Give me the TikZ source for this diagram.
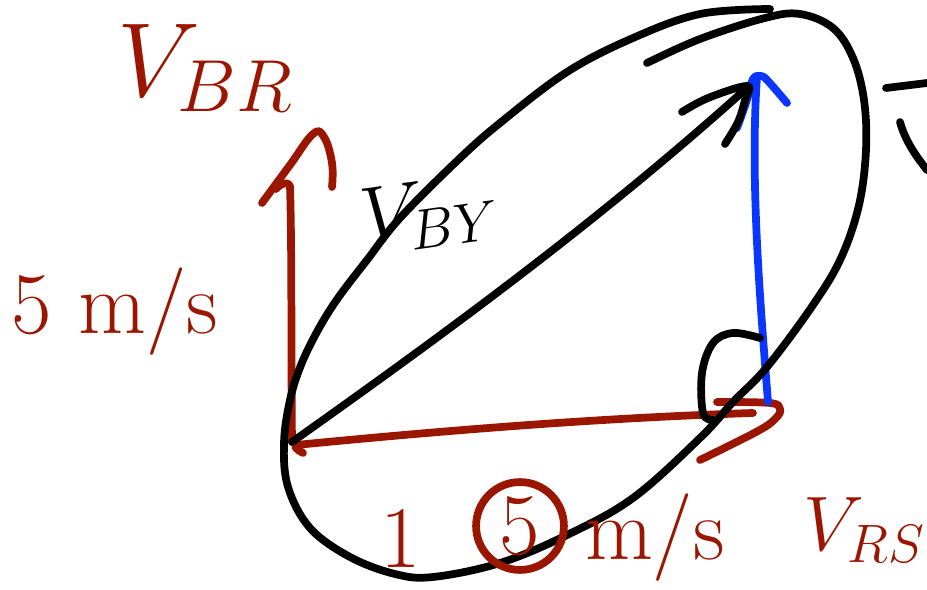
\RequirePackage{fix-cm}
\documentclass[tikz,border=0pt]{standalone}
\usetikzlibrary{positioning}

\definecolor{vred}{RGB}{155,22,0}
\definecolor{vblue}{RGB}{10,54,255}

\begin{document}
\begin{tikzpicture}[
    x=0.02cm, y=-0.02cm,
    every node/.style = {inner sep=0pt, outer sep=0pt},
    pen/.style        = {line width=4.4pt, line cap=round, line join=round},
    redpen/.style     = {pen, draw=vred},
    bluepen/.style    = {pen, draw=vblue},
    blackpen/.style   = {pen, draw=black},
    bigtxt/.style     = {text=vred, font=\fontsize{60}{66}\selectfont},
    midtxt/.style     = {text=vred, font=\fontsize{50}{56}\selectfont}
    ]
      \useasboundingbox (0,0) rectangle (927,590);

      % points ---------------------------------------------------
      \coordinate (O)  at (292,442);
      \coordinate (Rt) at (290,186);
      \coordinate (St) at (753,413);
      \coordinate (Yt) at (748,87);
      \coordinate (Bs) at (768,402);
      \coordinate (Bt) at (757,77);

      % red vectors ----------------------------------------------
      \draw[redpen] (O) .. controls (291,350) and (292,250) .. (Rt)
            .. controls (288,181) and (281,183) .. (276,189);
      \draw[redpen] plot[smooth, tension=0.7] coordinates
            {(262,203) (290,165) (313,134) (324,137) (332,163) (332,187)};
      \draw[redpen] (303,453) .. controls (296,449) and (294,447) .. (296,445)
            .. controls (450,430) and (600,418) .. (St);
      \draw[redpen] plot[smooth, tension=0.6] coordinates
            {(717,402) (770,403) (780,409) (776,418) (758,431) (700,460)};

      % blue vector ----------------------------------------------
      \draw[bluepen] (Bs) .. controls (760,300) and (750,180) .. (Bt);
      \draw[bluepen] plot[smooth, tension=0.6] coordinates
            {(737,128) (747,100) (753,79) (761,76) (768,81) (787,103)};

      % black vector ---------------------------------------------
      \draw[blackpen] (O) .. controls (450,330) and (600,220) .. (Yt);
      \draw[blackpen] plot[smooth, tension=0.6] coordinates
            {(682,112) (708,98) (747,86) (745,100) (738,122) (725,144)};

      % ellipse --------------------------------------------------
      \draw[blackpen] plot[smooth, tension=0.6] coordinates
            {(647,63) (700,39) (765,18) (800,14) (833,28) (853,58) (864,100)
             (866,150) (859,205) (841,258) (813,305) (767,367) (733,402)
             (700,438) (633,498) (567,535) (500,563) (433,577) (395,574)
             (350,557) (310,528) (288,487) (284,443) (290,400) (301,365)
             (318,330) (338,298) (367,260) (400,218) (458,160) (500,123)
             (567,72) (633,38) (700,14) (770,9)};

      % right angle and edge marks -------------------------------
      \draw[blackpen] plot[smooth, tension=0.6] coordinates
            {(760,338) (733,333) (713,343) (702,373) (703,413) (713,420)};
      \draw[blackpen] (886,88) -- (927,83);
      \draw[blackpen] (900,122) .. controls (905,140) and (915,155) .. (927,170);

      % labels ---------------------------------------------------
      \node[bigtxt] (vbr) at (205,68) {$V_{BR}$};
      \node[midtxt] (five) at (115,312) {5 m/s};
      \node[text=black, font=\fontsize{46}{52}\selectfont, rotate=8]
            (vby) at (430,214) {$V_{BY}$};
      \node[midtxt] (one) at (401,538) {1};
      \node[midtxt, circle, redpen, minimum size=50pt] (fivec) at (520,526) {5};
      \node[midtxt] (ms) at (655,538) {m/s};
      \node[text=vred, font=\fontsize{44}{50}\selectfont, anchor=east]
            (vrs) at (925,530) {$V_{RS}$};
\end{tikzpicture}
\end{document}
